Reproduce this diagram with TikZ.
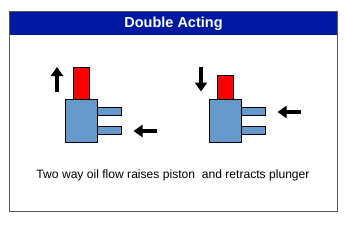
\documentclass[tikz,border=0pt]{standalone}
\usepackage{fontspec}
\setmainfont{Liberation Sans}
\usetikzlibrary{arrows.meta}
\definecolor{headblue}{HTML}{0019A3}
\definecolor{bodyblue}{HTML}{6699CC}
\definecolor{framegray}{HTML}{595959}
\tikzset{
  x=1pt,y=-1pt,
  part/.style={draw=black,line width=0.9pt,inner sep=0pt,outer sep=0pt},
  cylinder body/.style={part,fill=bodyblue,minimum width=32pt,minimum height=43pt},
  plunger/.style={part,fill=red,minimum width=16pt},
  oil port/.style={part,fill=bodyblue,minimum width=24pt,minimum height=8pt},
  motion/.style={line width=4pt,-{Triangle[length=9pt,width=12pt]},black},
}
\begin{document}
\begin{tikzpicture}
  \useasboundingbox (0,0) rectangle (345,242);
  \fill[white] (0,0) rectangle (345,242);

  % panel with its title bar
  \node[draw=framegray,line width=0.9pt,fill=white,inner sep=0pt,minimum width=328pt,minimum height=199.5pt] (panel) at (173.5,111.25) {};
  \node[fill=headblue,inner sep=0pt,minimum width=327pt,minimum height=23pt,text=white,font=\fontsize{14.5}{16}\selectfont\bfseries] (title) at (173.5,23.5) {Double Acting};

  % cylinder raising its piston
  \node[cylinder body] (bodyA) at (81.5,121) {};
  \node[plunger,minimum height=32pt] (plungerA) at (81.5,83.5) {};
  \node[oil port] (portAtop) at (109.5,111.5) {};
  \node[oil port] (portAlow) at (109.5,130.5) {};
  \coordinate (upFrom) at (57,91.5);
  \coordinate (upTo) at (57,67);
  \coordinate (inAFrom) at (157,131);
  \coordinate (inATo) at (133.5,131);
  \draw[motion] (upFrom) -- (upTo);
  \draw[motion] (inAFrom) -- (inATo);

  % cylinder retracting its plunger
  \node[cylinder body] (bodyB) at (225.5,121) {};
  \node[plunger,minimum height=24pt] (plungerB) at (225.5,87.5) {};
  \node[oil port] (portBtop) at (253.5,111.5) {};
  \node[oil port] (portBlow) at (253.5,130.5) {};
  \coordinate (downFrom) at (201,67);
  \coordinate (downTo) at (201,91.5);
  \coordinate (inBFrom) at (301,112);
  \coordinate (inBTo) at (277.5,112);
  \draw[motion] (downFrom) -- (downTo);
  \draw[motion] (inBFrom) -- (inBTo);

  % caption
  \node[inner sep=0pt,font=\fontsize{12.1}{14}\selectfont,text=black] (caption) at (173,175.5) {Two way oil flow raises piston\ \ and retracts plunger};
\end{tikzpicture}
\end{document}
